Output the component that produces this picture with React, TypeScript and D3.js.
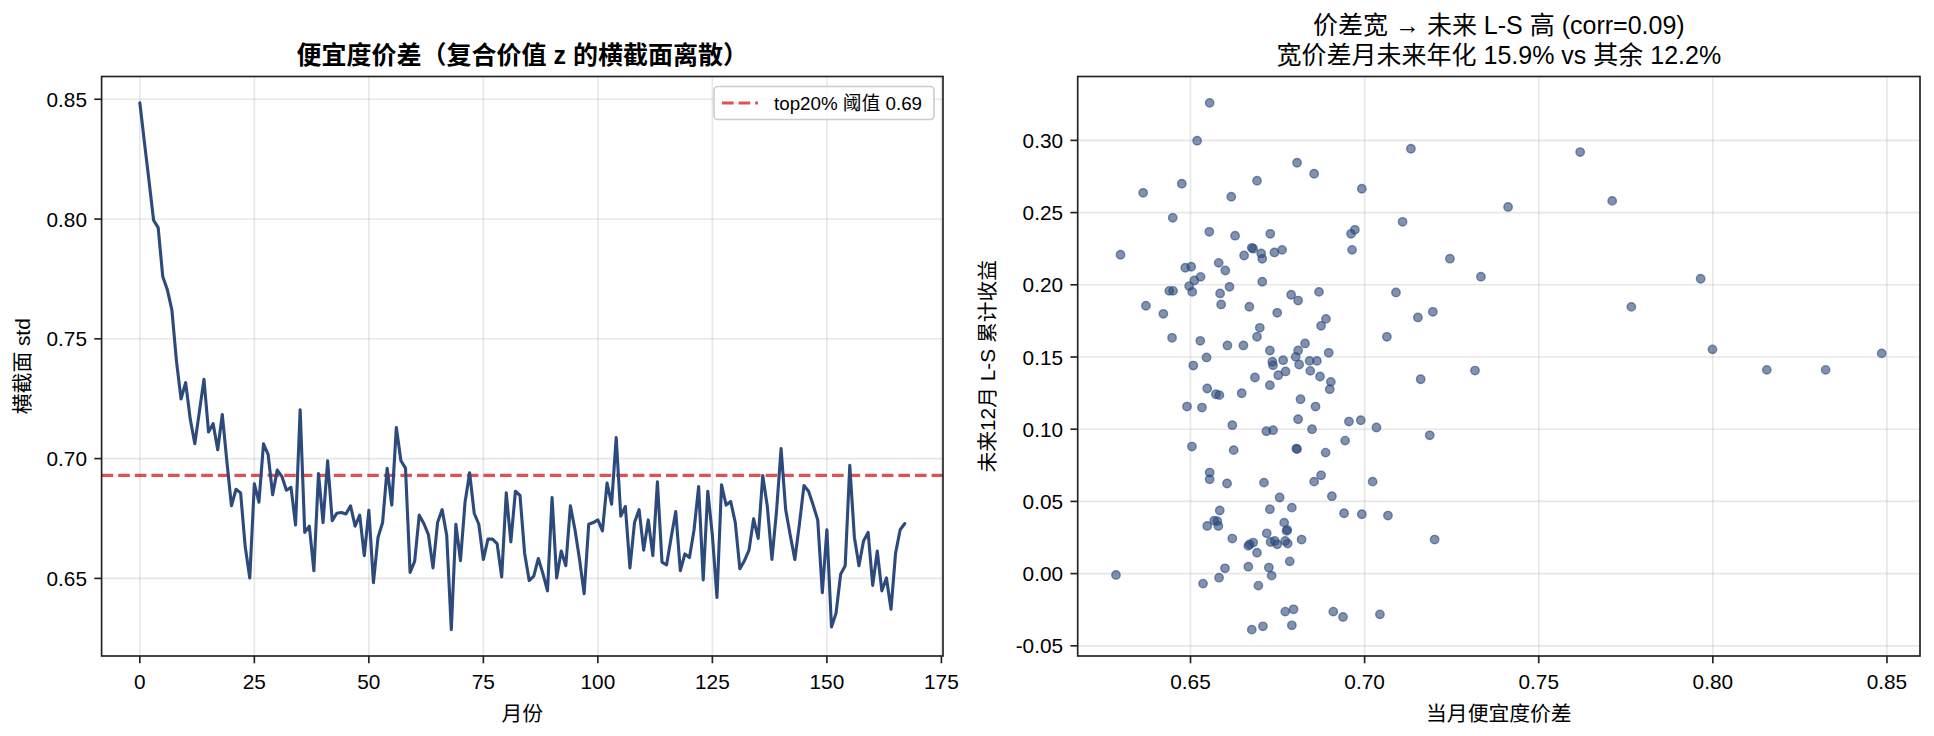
import React from 'react';
import * as d3 from 'd3';

// Left panel: monthly cross-sectional std of composite value z (month index = array index)
const spreadSeries: number[] = [
  0.8485, 0.832, 0.816, 0.7995, 0.7964, 0.776, 0.7705, 0.762, 0.7406, 0.7249,
  0.7317, 0.7165, 0.7062, 0.7196, 0.7331, 0.7111, 0.7146, 0.7037, 0.7184, 0.6988,
  0.6803, 0.6872, 0.6857, 0.6633, 0.6502, 0.6895, 0.6818, 0.7062, 0.7018, 0.6849,
  0.6952, 0.6926, 0.6868, 0.688, 0.6723, 0.7204, 0.6692, 0.6718, 0.6532, 0.6938,
  0.6733, 0.6991, 0.6741, 0.6772, 0.6775, 0.6769, 0.6803, 0.6718, 0.6764, 0.6595,
  0.6784, 0.6482, 0.6671, 0.6733, 0.696, 0.6806, 0.713, 0.6991, 0.696, 0.6525,
  0.6571, 0.6764, 0.6729, 0.6683, 0.6544, 0.6733, 0.6787, 0.6679, 0.6286, 0.6726,
  0.6574, 0.6818, 0.6941, 0.6772, 0.6726, 0.6579, 0.6664, 0.6664, 0.6645, 0.6506,
  0.6857, 0.6652, 0.6864, 0.6846, 0.6606, 0.6491, 0.6509, 0.6583, 0.652, 0.6448,
  0.6837, 0.6502, 0.6614, 0.6553, 0.6803, 0.6703, 0.6579, 0.6436, 0.6726, 0.6733,
  0.6744, 0.6698, 0.6898, 0.681, 0.7088, 0.676, 0.68, 0.6544, 0.6733, 0.6787,
  0.6618, 0.6744, 0.6595, 0.6903, 0.6568, 0.6556, 0.6671, 0.6779, 0.6532, 0.6602,
  0.6587, 0.6703, 0.6883, 0.6494, 0.6864, 0.6679, 0.642, 0.6891, 0.6806, 0.6821,
  0.6733, 0.654, 0.6574, 0.6618, 0.6749, 0.6667, 0.6929, 0.68, 0.6579, 0.678,
  0.7042, 0.6787, 0.668, 0.6579, 0.6726, 0.6888, 0.6864, 0.6806, 0.6744, 0.644,
  0.6703, 0.6297, 0.6355, 0.6517, 0.6553, 0.6972, 0.6672, 0.6553, 0.6656, 0.6692,
  0.6471, 0.6614, 0.6448, 0.6502, 0.6371, 0.6606, 0.6703, 0.6729,
];
const threshold = 0.693;
const thresholdLabel = 'top20% 阈值 0.69';

// Right panel: spread of the month vs. forward 12m cumulative L-S return
const scatterSpread: number[] = [
  0.6555, 0.6519, 0.6475, 0.6364, 0.6617, 0.6449, 0.6554, 0.6628, 0.6299, 0.6502,
  0.6485, 0.6581, 0.66, 0.6529, 0.6511, 0.6496, 0.6612, 0.6439, 0.645, 0.6505,
  0.6585, 0.6588, 0.6372, 0.6422, 0.6447, 0.6528, 0.6606, 0.6546, 0.6508,
  0.7133, 0.6806, 0.6855, 0.6691, 0.6992, 0.7109, 0.6729, 0.6961, 0.6972, 0.6676,
  0.668, 0.6703, 0.6654, 0.6706, 0.6741, 0.6763, 0.6964, 0.6706, 0.6789, 0.6809,
  0.6869, 0.709, 0.6669, 0.6749, 0.6889, 0.6875, 0.7153, 0.7196, 0.6699, 0.6691,
  0.7064, 0.6652, 0.6728, 0.6829, 0.6809, 0.6897,
  0.6737, 0.6735, 0.6766, 0.6802, 0.6812, 0.6842, 0.6863, 0.6685, 0.6752, 0.6773,
  0.6844, 0.6872, 0.6903, 0.69, 0.6728, 0.6647, 0.6816, 0.6859, 0.7161, 0.662,
  0.6809, 0.6955, 0.6989, 0.7034, 0.6718, 0.6737, 0.6849, 0.7187, 0.6944, 0.6624,
  0.6804, 0.6806, 0.6888, 0.6875, 0.6855, 0.6711, 0.7023, 0.6756, 0.6906, 0.6728,
  0.6791, 0.6941, 0.6992, 0.7067, 0.6769, 0.6776, 0.6778, 0.6719, 0.662, 0.6819,
  0.7201, 0.668, 0.6666, 0.667, 0.673, 0.6742, 0.6749, 0.6772, 0.6779, 0.6691,
  0.6785, 0.6666, 0.6725, 0.6733, 0.6695, 0.6772, 0.6796, 0.691, 0.6938, 0.7044,
  0.6676, 0.6708, 0.6791,
  0.6548, 0.6573, 0.6583, 0.649, 0.6533, 0.6504, 0.6555, 0.6555, 0.6605, 0.6584,
  0.6568, 0.6577, 0.6548, 0.658, 0.6599, 0.6582, 0.6536, 0.6286,
  0.7619, 0.7711, 0.7412, 0.7245, 0.7334, 0.7965, 0.7766, 0.7999, 0.8485, 0.7317,
  0.8155, 0.8324,
];
const scatterFwdRet: number[] = [
  0.326, 0.2998, 0.27, 0.2637, 0.261, 0.2464, 0.2367, 0.234, 0.2208, 0.2125,
  0.2118, 0.2152, 0.2099, 0.2055, 0.203, 0.1991, 0.1986, 0.1958, 0.1958, 0.1951,
  0.194, 0.1864, 0.1855, 0.1799, 0.1633, 0.1612, 0.158, 0.1497, 0.1441,
  0.2942, 0.2845, 0.2769, 0.2721, 0.2665, 0.2436, 0.2353, 0.2353, 0.2381, 0.2256,
  0.225, 0.2217, 0.2203, 0.218, 0.2224, 0.2242, 0.2242, 0.2021, 0.1931, 0.1891,
  0.1951, 0.1947, 0.1848, 0.1806, 0.1764, 0.1716, 0.1774, 0.1813, 0.1702, 0.164,
  0.164, 0.158, 0.1545, 0.1594, 0.1545, 0.1529,
  0.1443, 0.1467, 0.1478, 0.1501, 0.1448, 0.1473, 0.1473, 0.1358, 0.1374, 0.14,
  0.1404, 0.1365, 0.1328, 0.1277, 0.1305, 0.1249, 0.1208, 0.1157, 0.1346, 0.1028,
  0.1069, 0.1053, 0.1062, 0.1012, 0.0986, 0.0993, 0.1, 0.0958, 0.0921, 0.0855,
  0.0866, 0.0862, 0.0838, 0.0681, 0.0637, 0.063, 0.0637, 0.0527, 0.0536, 0.0446,
  0.0457, 0.0418, 0.0411, 0.0402, 0.0353, 0.0296, 0.0303, 0.0279, 0.0243, 0.0236,
  0.0236, 0.0215, 0.0192, 0.0203, 0.0219, 0.0226, 0.0203, 0.0226, 0.0208, 0.0145,
  0.0085, 0.0048, 0.0042, -0.0014, -0.0083, -0.0263, -0.0247, -0.0263, -0.03, -0.0282,
  -0.0388, -0.0365, -0.0358,
  0.1282, 0.1242, 0.1236, 0.1157, 0.115, 0.088, 0.07, 0.0654, 0.0624, 0.0437,
  0.0367, 0.0363, 0.033, 0.033, 0.0037, -0.0028, -0.0069, -0.0009,
  0.2919, 0.2581, 0.2539, 0.2181, 0.2056, 0.2042, 0.1847, 0.1553, 0.1525, 0.1406,
  0.1411, 0.1411,
];

const leftXTicks = [0, 25, 50, 75, 100, 125, 150, 175];
const leftYTicks = [0.65, 0.7, 0.75, 0.8, 0.85];
const rightXTicks = [0.65, 0.7, 0.75, 0.8, 0.85];
const rightYTicks = [-0.05, 0, 0.05, 0.1, 0.15, 0.2, 0.25, 0.3];

const leftTitle = '便宜度价差（复合价值 z 的横截面离散）';
const leftXLabel = '月份';
const leftYLabel = '横截面 std';
const rightTitle1 = '价差宽 → 未来 L-S 高 (corr=0.09)';
const rightTitle2 = '宽价差月未来年化 15.9% vs 其余 12.2%';
const rightXLabel = '当月便宜度价差';
const rightYLabel = '未来12月 L-S 累计收益';

const W = 1934;
const H = 736;
const FONT = "'Liberation Sans', Arial, 'Noto Sans CJK SC', sans-serif";
const FS = 20.8;
const TITLE_FS = 25;
const LINE_COLOR = '#2c4a7c';
const TICK_LEN = 7.3;
const PAD = 7.3;

const leftBox = { x0: 101.6, x1: 943, y0: 76.5, y1: 656 };
const rightBox = { x0: 1077.7, x1: 1920, y0: 76.5, y1: 656 };

function padded(ext: [number, number]): [number, number] {
  const r = ext[1] - ext[0];
  return [ext[0] - 0.05 * r, ext[1] + 0.05 * r];
}

function Grid({ box, x, y, xTicks, yTicks }: any) {
  return (
    <g>
      {xTicks.map((t: number) => (
        <line key={'gx' + t} x1={x(t)} x2={x(t)} y1={box.y0} y2={box.y1} stroke="#b0b0b0" strokeOpacity={0.3} strokeWidth={1.6} />
      ))}
      {yTicks.map((t: number) => (
        <line key={'gy' + t} x1={box.x0} x2={box.x1} y1={y(t)} y2={y(t)} stroke="#b0b0b0" strokeOpacity={0.3} strokeWidth={1.6} />
      ))}
    </g>
  );
}

function Axes({ box, x, y, xTicks, yTicks, xFmt, yFmt }: any) {
  return (
    <g>
      <rect x={box.x0} y={box.y0} width={box.x1 - box.x0} height={box.y1 - box.y0} fill="none" stroke="#222" strokeWidth={1.67} />
      {xTicks.map((t: number) => (
        <g key={'tx' + t}>
          <line x1={x(t)} x2={x(t)} y1={box.y1} y2={box.y1 + TICK_LEN} stroke="#222" strokeWidth={1.67} />
          <text x={x(t)} y={box.y1 + TICK_LEN + PAD + FS * 0.5} textAnchor="middle" dominantBaseline="central" fontSize={FS} fill="#000">{xFmt(t)}</text>
        </g>
      ))}
      {yTicks.map((t: number) => (
        <g key={'ty' + t}>
          <line x1={box.x0 - TICK_LEN} x2={box.x0} y1={y(t)} y2={y(t)} stroke="#222" strokeWidth={1.67} />
          <text x={box.x0 - TICK_LEN - PAD} y={y(t)} textAnchor="end" dominantBaseline="central" fontSize={FS} fill="#000">{yFmt(t)}</text>
        </g>
      ))}
    </g>
  );
}

export default function App() {
  const idx = spreadSeries.map((_, i) => i);
  const lx = d3.scaleLinear().domain(padded(d3.extent(idx) as [number, number])).range([leftBox.x0, leftBox.x1]);
  const ly = d3.scaleLinear().domain(padded(d3.extent(spreadSeries) as [number, number])).range([leftBox.y1, leftBox.y0]);
  const linePath = d3.line<number>().x((_, i) => lx(i)).y((d) => ly(d))(spreadSeries) || '';

  const rx = d3.scaleLinear().domain(padded(d3.extent(scatterSpread) as [number, number])).range([rightBox.x0, rightBox.x1]);
  const ry = d3.scaleLinear().domain(padded(d3.extent(scatterFwdRet) as [number, number])).range([rightBox.y1, rightBox.y0]);

  const f2 = (v: number) => d3.format('.2f')(v).replace('−', '-');
  const f0 = (v: number) => String(v);

  const legW = 220;
  const legH = 33;
  const legX = leftBox.x1 - 9 - legW;
  const legY = leftBox.y0 + 10;

  return (
    <svg width={W} height={H} style={{ position: 'absolute', left: 0, top: 0, background: '#fff' }} fontFamily={FONT}>
      <rect x={0} y={0} width={W} height={H} fill="#fff" />
      {/* Left panel */}
      <Grid box={leftBox} x={lx} y={ly} xTicks={leftXTicks} yTicks={leftYTicks} />
      <line x1={leftBox.x0} x2={leftBox.x1} y1={ly(threshold)} y2={ly(threshold)} stroke="#d62728" strokeOpacity={0.8} strokeWidth={3.1} strokeDasharray="11.6 5" />
      <path d={linePath} fill="none" stroke={LINE_COLOR} strokeWidth={3.1} strokeLinejoin="round" strokeLinecap="round" />
      <Axes box={leftBox} x={lx} y={ly} xTicks={leftXTicks} yTicks={leftYTicks} xFmt={f0} yFmt={f2} />
      <g>
        <rect x={legX} y={legY} width={legW} height={legH} rx={4} fill="#fff" fillOpacity={0.8} stroke="#cccccc" strokeWidth={1.6} />
        <line x1={legX + 8} x2={legX + 44} y1={legY + legH / 2} y2={legY + legH / 2} stroke="#d62728" strokeOpacity={0.8} strokeWidth={3.1} strokeDasharray="11.6 5" />
        <text x={legX + 60} y={legY + legH / 2} dominantBaseline="central" fontSize={18.75} fill="#000">{thresholdLabel}</text>
      </g>
      <text x={(leftBox.x0 + leftBox.x1) / 2} y={64} textAnchor="middle" fontSize={TITLE_FS} fontWeight="bold" fill="#000">{leftTitle}</text>
      <text x={(leftBox.x0 + leftBox.x1) / 2} y={713} textAnchor="middle" dominantBaseline="central" fontSize={FS} fill="#000">{leftXLabel}</text>
      <text transform={`translate(22,${(leftBox.y0 + leftBox.y1) / 2}) rotate(-90)`} textAnchor="middle" dominantBaseline="central" fontSize={FS} fill="#000">{leftYLabel}</text>

      {/* Right panel */}
      <Grid box={rightBox} x={rx} y={ry} xTicks={rightXTicks} yTicks={rightYTicks} />
      <g>
        {scatterSpread.map((v, i) => (
          <circle key={i} cx={rx(v)} cy={ry(scatterFwdRet[i])} r={4.2} fill={LINE_COLOR} fillOpacity={0.6} stroke={LINE_COLOR} strokeOpacity={0.6} strokeWidth={1.4} />
        ))}
      </g>
      <Axes box={rightBox} x={rx} y={ry} xTicks={rightXTicks} yTicks={rightYTicks} xFmt={f2} yFmt={f2} />
      <text x={(rightBox.x0 + rightBox.x1) / 2} y={34} textAnchor="middle" fontSize={TITLE_FS} fill="#000">{rightTitle1}</text>
      <text x={(rightBox.x0 + rightBox.x1) / 2} y={64} textAnchor="middle" fontSize={TITLE_FS} fill="#000">{rightTitle2}</text>
      <text x={(rightBox.x0 + rightBox.x1) / 2} y={713} textAnchor="middle" dominantBaseline="central" fontSize={FS} fill="#000">{rightXLabel}</text>
      <text transform={`translate(987,${(rightBox.y0 + rightBox.y1) / 2}) rotate(-90)`} textAnchor="middle" dominantBaseline="central" fontSize={FS} fill="#000">{rightYLabel}</text>
    </svg>
  );
}
